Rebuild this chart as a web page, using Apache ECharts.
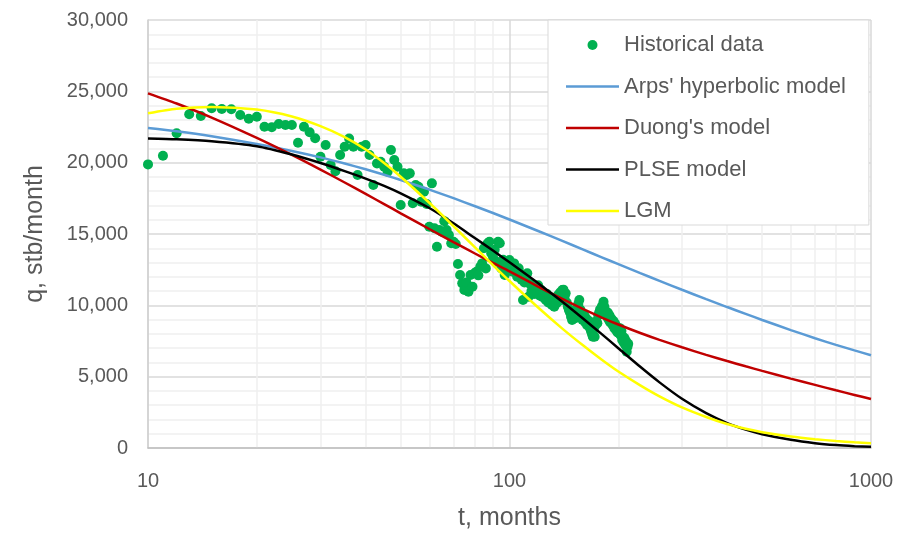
<!DOCTYPE html>
<html>
<head>
<meta charset="utf-8">
<script src="https://cdn.jsdelivr.net/npm/echarts@6/dist/echarts.min.js"></script>
<style>
  html, body { margin: 0; padding: 0; background: #ffffff; }
  #chart { width: 897px; height: 533px; }
</style>
</head>
<body>
<div id="chart"></div>
<script>
// Monthly oil rate history, starting at month 10 (stb/month)
const histStartMonth = 10;
const histRate = [
  19880, 20490, 22060, 23390, 23270, 23810, 23760, 23740, 23340, 23080,
  23220, 22520, 22480, 22710, 22640, 22640, 21400, 22520, 22130, 21710,
  20420, 21240, 19840, 19400, 20540, 21120, 21700, 21120, 19130, 21120,
  21240, 20540, 18430, 19950, 20070, 19720, 19370, 20890, 20190, 19720,
  17030, 19250, 19130, 19250, 17150, 18430, 18310, 17260, 17960, 17100,
  15510, 18550, 15400, 14110, 15280, 15160, 15900, 15280, 14930, 14350,
  14460, 14300, 12900, 12130, 11540, 11070, 11600, 10960, 12130, 11300,
  12250, 12360, 12100, 12710, 12940, 14000, 12590, 14350, 14460, 13650,
  13400, 13900, 13060, 14460, 14350, 12590, 13200, 12130, 12700, 13000,
  13180, 12940, 12360, 12940, 12480, 12010, 12600, 12250, 11800, 10370,
  11600, 12000, 12250, 10610, 11500, 11000, 11310, 10800, 11200, 10840,
  11400, 10700, 11100, 10610, 10900, 10500, 10370, 10800, 10200, 10600,
  10400, 10020, 10300, 9900, 10500, 10140, 10700, 10300, 10900, 10500,
  11070, 11100, 10600, 10840, 10200, 9900, 9670, 9500, 9200, 8970,
  9300, 9600, 9100, 9400, 9800, 10100, 10370, 9700, 9200, 9000,
  8970, 9300, 8800, 9100, 8600, 8740, 8900, 8400, 8200, 8000,
  7800, 8300, 7800, 8600, 8900, 8740, 9300, 9500, 9700, 9400,
  9900, 10000, 10250, 9900, 9600, 9440, 9200, 9500, 9000, 9300,
  8800, 9100, 8740, 8600, 8900, 8400, 8700, 8270, 8500, 8100,
  8300, 8040, 8400, 7900, 8200, 7570, 7800, 7400, 7700, 7220,
  7500, 6750, 7100, 7300
];

// Model forecasts sampled on a common time grid (months)
const modelT    = [10, 12, 15, 20, 25, 30, 35, 40, 45, 50, 60, 70, 80, 90, 100, 120, 140, 160, 180, 200, 230, 260, 300, 350, 400, 450, 500, 600, 700, 800, 900, 1000];
const arpsRate  = [22430, 22195, 21845, 21305, 20820, 20370, 19940, 19535, 19150, 18785, 18115, 17510, 16965, 16470, 16015, 15210, 14515, 13905, 13365, 12885, 12255, 11715, 11090, 10435, 9880, 9400, 8975, 8265, 7695, 7230, 6840, 6505];
const duongRate = [24860, 24145, 23160, 21735, 20545, 19515, 18610, 17810, 17095, 16450, 15350, 14435, 13650, 12975, 12385, 11315, 10445, 9730, 9145, 8655, 8060, 7580, 7060, 6530, 6095, 5725, 5405, 4865, 4425, 4045, 3720, 3430];
const plseRate  = [21700, 21640, 21500, 21150, 20570, 19975, 19405, 18885, 18375, 17850, 16820, 15750, 14735, 13840, 13015, 11550, 10245, 9055, 7980, 6995, 5690, 4600, 3450, 2445, 1750, 1290, 970, 575, 340, 205, 130, 85];
const lgmRate   = [23460, 23780, 23905, 23720, 23235, 22560, 21790, 20920, 19975, 19015, 17190, 15550, 14100, 12825, 11705, 9845, 8370, 7180, 6185, 5360, 4390, 3620, 2845, 2175, 1680, 1345, 1110, 810, 620, 490, 400, 330];

// Intermediate log-decade gridlines
const minorGridT = [20, 30, 40, 50, 60, 70, 80, 90, 200, 300, 400, 500, 600, 700, 800, 900];

const seriesNames = ['Historical data', "Arps' hyperbolic model", "Duong's model", 'PLSE model', 'LGM'];

const FONT = 'Liberation Sans';
const TEXT = '#595959';
const LINE_ICON = 'path://M0,0 H53 V2.5 H0 Z';

const histData = histRate.map((q, i) => [histStartMonth + i, q]);
const pair = arr => modelT.map((t, i) => [t, arr[i]]);

function lineSeries(name, arr, color) {
  return {
    name: name,
    type: 'line',
    data: pair(arr),
    smooth: 0.25,
    showSymbol: false,
    symbol: 'none',
    z: 3,
    lineStyle: { color: color, width: 2.5 },
    itemStyle: { color: color },
    emphasis: { disabled: true }
  };
}

const chart = echarts.init(document.getElementById('chart'), null, { renderer: 'canvas' });

chart.setOption({
  animation: false,
  backgroundColor: '#ffffff',
  textStyle: { fontFamily: FONT },
  grid: { left: 148, right: 26, top: 20, bottom: 85, containLabel: false, outerBoundsMode: 'none' },
  legend: {
    data: seriesNames.map((name, i) => ({ name: name, icon: i === 0 ? 'circle' : LINE_ICON })),
    orient: 'vertical',
    left: 548,
    top: 20,
    padding: [13, 23, 2, 18],
    itemWidth: 53,
    itemHeight: 10,
    itemGap: 17.5,
    backgroundColor: '#ffffff',
    borderColor: '#d9d9d9',
    borderWidth: 1,
    borderRadius: 0,
    z: 10,
    textStyle: { color: TEXT, fontSize: 22, fontFamily: FONT, lineHeight: 24 },
    selectedMode: false
  },
  xAxis: {
    type: 'log',
    logBase: 10,
    min: 10,
    max: 1000,
    name: 't, months',
    nameLocation: 'middle',
    nameGap: 58,
    nameTextStyle: { color: TEXT, fontSize: 25, fontFamily: FONT },
    axisLine: { show: true, lineStyle: { color: '#bfbfbf', width: 1.5 } },
    axisTick: { show: false },
    axisLabel: { color: TEXT, fontSize: 20, fontFamily: FONT, margin: 23, formatter: v => String(v) },
    splitLine: { show: true, lineStyle: { color: '#d9d9d9', width: 1.5 } },
    minorTick: { show: false },
    minorSplitLine: { show: false }
  },
  yAxis: {
    type: 'value',
    min: 0,
    max: 30000,
    interval: 5000,
    name: 'q, stb/month',
    nameLocation: 'middle',
    nameRotate: 90,
    nameGap: 100,
    nameTextStyle: { color: TEXT, fontSize: 25, fontFamily: FONT },
    axisLine: { show: true, lineStyle: { color: '#d0d0d0', width: 1.5 } },
    axisTick: { show: false },
    axisLabel: {
      color: TEXT, fontSize: 20, fontFamily: FONT, margin: 20,
      formatter: v => v.toLocaleString('en-US')
    },
    splitLine: { show: true, lineStyle: { color: '#d9d9d9', width: 1.5 } },
    minorTick: { show: false, splitNumber: 5 },
    minorSplitLine: { show: true, lineStyle: { color: '#efefef', width: 1.5 } }
  },
  series: [
    {
      name: 'minor-grid',
      type: 'line',
      data: [],
      silent: true,
      z: 0,
      markLine: {
        silent: true,
        z: 0,
        symbol: 'none',
        label: { show: false },
        lineStyle: { color: '#efefef', width: 1.5, type: 'solid' },
        emphasis: { disabled: true },
        animation: false,
        data: minorGridT.map(t => ({ xAxis: t }))
      }
    },
    {
      name: seriesNames[0],
      type: 'scatter',
      data: histData,
      symbol: 'circle',
      symbolSize: 10,
      z: 2,
      itemStyle: { color: '#00b050', opacity: 1 },
      emphasis: { disabled: true }
    },
    lineSeries(seriesNames[1], arpsRate, '#5b9bd5'),
    lineSeries(seriesNames[2], duongRate, '#c00000'),
    lineSeries(seriesNames[3], plseRate, '#000000'),
    lineSeries(seriesNames[4], lgmRate, '#ffff00')
  ]
});
</script>
</body>
</html>
